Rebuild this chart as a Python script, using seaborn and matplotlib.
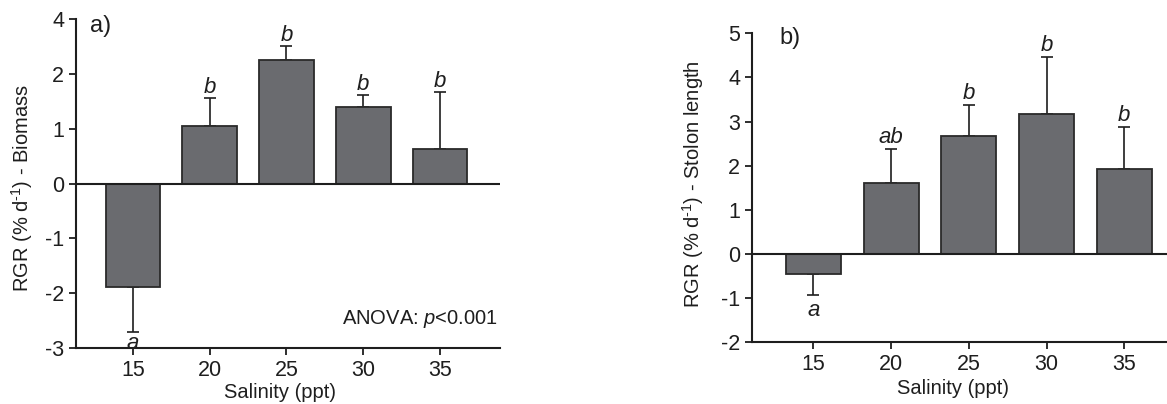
import matplotlib
matplotlib.use("Agg")
import matplotlib.pyplot as plt
import seaborn as sns
import numpy as np
import pandas as pd

# ---- data ----
salinity = ["15", "20", "25", "30", "35"]
biomass_mean = [-1.88, 1.05, 2.25, 1.40, 0.63]
biomass_err = [0.83, 0.51, 0.26, 0.22, 1.04]
biomass_letters = ["a", "b", "b", "b", "b"]
stolon_mean = [-0.45, 1.62, 2.67, 3.17, 1.93]
stolon_err = [0.47, 0.77, 0.70, 1.30, 0.95]
stolon_letters = ["a", "ab", "b", "b", "b"]
a_ticks = [-3, -2, -1, 0, 1, 2, 3]
a_ticklabels = ["-3", "-2", "-1", "0", "1", "2", "4"]
b_ticks = [-2, -1, 0, 1, 2, 3, 4, 5]

sns.set_style("ticks")
plt.rcParams["font.family"] = ["Liberation Sans", "DejaVu Sans"]
plt.rcParams["mathtext.fontset"] = "custom"
plt.rcParams["mathtext.rm"] = "Liberation Sans"
plt.rcParams["mathtext.it"] = "Liberation Sans:italic"
plt.rcParams["axes.unicode_minus"] = False

BAR = "#6a6b6f"
EDGE = "#2a2a2a"
INK = "#1e1e1e"
FS = 14.5

fig = plt.figure(figsize=(11.67, 4.04), dpi=100)
axA = fig.add_axes([76 / 1167, 1 - 348 / 404, 424 / 1167, 329 / 404])
axB = fig.add_axes([752 / 1167, 1 - 342.3 / 404, 415 / 1167, 309 / 404])


def draw(ax, means, errs, letters, ylim, xlim, offset_up, offset_dn):
    df = pd.DataFrame({"Salinity": salinity, "RGR": means})
    sns.barplot(data=df, x="Salinity", y="RGR", color=BAR, saturation=1,
                width=0.71, edgecolor=EDGE, linewidth=1.3, errorbar=None, ax=ax,
                zorder=3)
    pos = np.arange(len(means))
    m = np.array(means)
    e = np.array(errs)
    lower = np.where(m < 0, e, 0)
    upper = np.where(m >= 0, e, 0)
    ax.errorbar(pos, m, yerr=[lower, upper], fmt="none", ecolor=INK,
                elinewidth=1.2, capsize=4, capthick=1.2, zorder=2)
    for p, v, er, lab in zip(pos, m, e, letters):
        if v >= 0:
            ax.text(p, v + er + offset_up, lab, ha="center", va="bottom",
                    fontsize=FS + 1.5, style="italic", color=INK)
        else:
            ax.text(p, v - er - offset_dn, lab, ha="center", va="top",
                    fontsize=FS + 1.5, style="italic", color=INK)
    ax.axhline(0, color=INK, lw=1.5, zorder=4)
    ax.set_ylim(*ylim)
    ax.set_xlim(*xlim)
    sns.despine(ax=ax)
    for s in ["left", "bottom"]:
        ax.spines[s].set_linewidth(1.5)
        ax.spines[s].set_color(INK)
    ax.tick_params(axis="both", labelsize=FS + 1, colors=INK, width=1.3, length=5,
                   direction="out")


draw(axA, biomass_mean, biomass_err, biomass_letters, (-3, 3), (-0.74, 4.78), 0.0, 0.02)
axA.set_yticks(a_ticks)
axA.set_yticklabels(a_ticklabels)
draw(axB, stolon_mean, stolon_err, stolon_letters, (-2, 5), (-0.79, 4.55), 0.02, 0.12)
axB.set_yticks(b_ticks)
axB.set_yticklabels([str(t) for t in b_ticks])

axA.set_ylabel("RGR (% d$^{\\text{-1}}$) - Biomass", fontsize=FS, color=INK, va="center")
axA.yaxis.set_label_coords(-0.127, 0.486)
axA.set_xlabel("Salinity (ppt)", fontsize=FS, color=INK, va="center")
axA.xaxis.set_label_coords(0.481, -0.134)

axB.set_ylabel("RGR (% d$^{\\text{-1}}$) - Stolon length", fontsize=FS, color=INK, va="center")
axB.yaxis.set_label_coords(-0.143, 0.512)
axB.set_xlabel("Salinity (ppt)", fontsize=FS, color=INK, va="center")
axB.xaxis.set_label_coords(0.484, -0.148)

axA.text(0.033, 0.979, "a)", transform=axA.transAxes, fontsize=FS + 2.5,
         ha="left", va="center", color=INK)
axB.text(0.067, 0.985, "b)", transform=axB.transAxes, fontsize=FS + 2.5,
         ha="left", va="center", color=INK)
axA.text(0.995, (348 - 319) / 329, "ANOVA: $\\it{p}$<0.001", transform=axA.transAxes,
         fontsize=FS, ha="right", va="center", color=INK)

fig.savefig("out.png", dpi=100)
